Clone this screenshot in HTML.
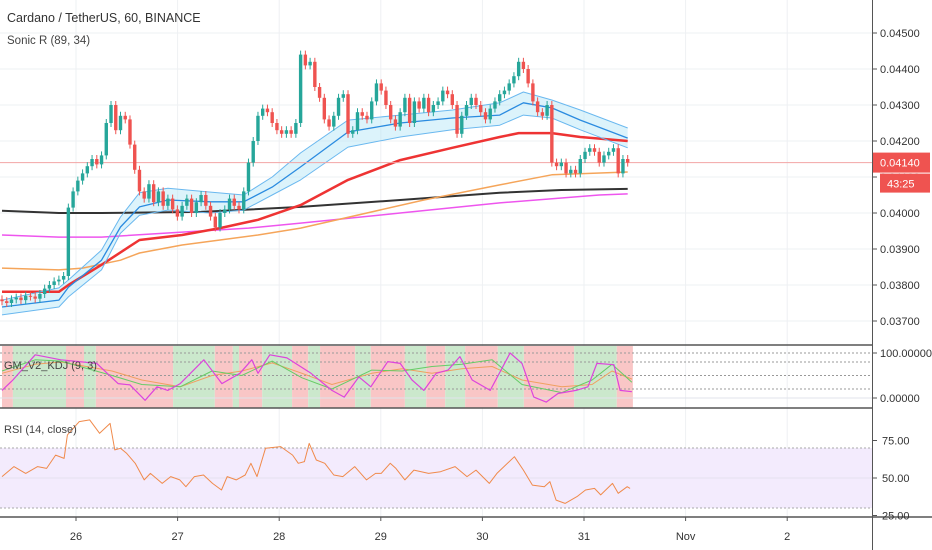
<!DOCTYPE html>
<html><head><meta charset="utf-8"><style>
html,body{margin:0;padding:0;background:#fff;}
svg{display:block;font-family:"Liberation Sans",sans-serif;}
</style></head><body>
<svg id="chart" width="932" height="550" viewBox="0 0 932 550">
<g id="grid"></g>
<g id="kdjBg"></g>
<g id="rsiBand"></g>
<g id="lines"></g>
<g id="candles"></g>
<g id="frame"></g>
<g id="labels"></g>
</svg>
<script>
// ---- data ----
const closes=[0.03755,0.03750,0.03760,0.03765,0.03758,0.03770,0.03768,0.03762,0.03775,0.03790,0.03800,0.03810,0.03815,0.03825,0.04015,0.04060,0.04090,0.04110,0.04130,0.04150,0.04135,0.04160,0.04250,0.04300,0.04230,0.04270,0.04260,0.04190,0.04120,0.04060,0.04040,0.04080,0.04030,0.04060,0.04020,0.04040,0.04010,0.03990,0.04020,0.04040,0.04000,0.04030,0.04050,0.04020,0.03990,0.03960,0.04000,0.04010,0.04040,0.04020,0.04010,0.04060,0.04140,0.04200,0.04270,0.04290,0.04280,0.04250,0.04230,0.04220,0.04230,0.04220,0.04250,0.04440,0.04410,0.04420,0.04350,0.04320,0.04260,0.04240,0.04270,0.04320,0.04330,0.04220,0.04230,0.04280,0.04270,0.04260,0.04310,0.04360,0.04340,0.04300,0.04260,0.04240,0.04280,0.04320,0.04250,0.04310,0.04290,0.04320,0.04280,0.04300,0.04310,0.04340,0.04330,0.04300,0.04220,0.04270,0.04300,0.04320,0.04300,0.04280,0.04260,0.04290,0.04310,0.04330,0.04340,0.04360,0.04380,0.04420,0.04400,0.04360,0.04310,0.04280,0.04270,0.04300,0.04140,0.04130,0.04140,0.04110,0.04120,0.04110,0.04150,0.04170,0.04180,0.04170,0.04140,0.04160,0.04170,0.04180,0.04110,0.04150,0.04140];
const firstOpen=0.03760;
const bandIdx=[0,12,14,21,25,29,35,44,51,57,63,73,84,95,105,110,116,122,132];
const emaMid=[0.03739,0.03758,0.03794,0.03869,0.03961,0.04017,0.04036,0.04031,0.04031,0.04072,0.04128,0.04225,0.04250,0.04264,0.04272,0.04306,0.04292,0.04258,0.04208];
const emaHigh=[0.03758,0.03792,0.03814,0.03897,0.03989,0.04056,0.04069,0.04058,0.04050,0.04100,0.04167,0.04258,0.04272,0.04286,0.04306,0.04336,0.04314,0.04286,0.04236];
const emaLow=[0.03717,0.03739,0.03767,0.03842,0.03944,0.03994,0.04008,0.04000,0.04008,0.04050,0.04092,0.04183,0.04211,0.04231,0.04244,0.04272,0.04264,0.04231,0.04181];
const redIdx=[0,12,14,21,29,38,46,54,63,73,84,95,105,109,116,122,132];
const redVals=[0.03781,0.03781,0.03800,0.03856,0.03925,0.03939,0.03958,0.03981,0.04022,0.04092,0.04147,0.04181,0.04211,0.04222,0.04222,0.04211,0.04200];
const orangeIdx=[0,12,17,25,29,38,46,54,63,89,105,116,132];
const orangeVals=[0.03847,0.03842,0.03847,0.03869,0.03889,0.03911,0.03925,0.03939,0.03958,0.04036,0.04078,0.04106,0.04114];
const blackIdx=[0,12,21,42,63,84,105,118,132];
const blackVals=[0.04006,0.04000,0.04000,0.04003,0.04017,0.04036,0.04056,0.04064,0.04067];
const magIdx=[0,12,21,38,52,63,84,105,126,132];
const magVals=[0.03939,0.03933,0.03933,0.03947,0.03958,0.03972,0.04000,0.04028,0.04050,0.04053];
const priceTicks=["0.04500","0.04400","0.04300","0.04200","0.04100","0.04000","0.03900","0.03800","0.03700"];
const lastPrice=0.04140;
const kdjBounds=[0,2.3,13.5,17.3,19.8,36.1,44.9,48.7,50,54.9,61.2,64.6,67.1,74.5,77.8,85,89.5,93.5,97.7,104.6,110.1,120.7,129.7,133.1];
const jIdx=[0,2.3,7,12.4,20,24.5,27,30.2,32.7,35,37.6,42.6,46.4,50.2,52.7,54,56.5,60.1,65.2,69.6,72.2,75.3,77.8,81.4,84,86.5,89,91.6,94.1,96.6,99.2,103,107.2,109.7,112.2,114.8,117.3,121.1,123.6,125.5,129.1,130.4,132.9];
const jVals=[17,40,96,85,77,32,29,-5,25,17,32,85,32,55,85,55,96,89,55,17,2,47,25,81,77,40,17,55,62,92,40,17,100,77,2,-9,10,17,25,77,74,17,14];
const kdIdx=[0,7,12.4,23.2,29.5,37.6,44.3,50.6,57,63.3,69.6,78,84.4,90.7,97,103.4,109.7,118.1,124.5,128.7,132.9];
const dVals=[55,75,80,60,40,25,50,60,78,55,30,55,65,55,65,70,40,25,30,60,42];
const kVals=[60,85,82,50,30,25,60,50,82,45,20,62,60,70,75,85,30,12,40,75,35];
const rsiIdx=[0,2.5,5,7.5,9.4,11.3,13.1,13.8,16.3,18.5,20.6,22.8,23.8,25,26.3,28.1,30,31.3,33.8,35.6,37.5,38.8,40.6,42.5,44.4,46.3,47.5,49.4,51.3,52.5,53.8,55.6,58.8,61.3,62.5,63.8,64.8,66.3,68.1,70,71.9,74.4,76.9,78.8,80,81.9,83.1,85,86.9,90,92.5,95.6,98.1,100,102.8,104.4,108.1,110,111.9,114.4,115.6,116.9,118.8,121.3,123.1,125,126.3,128.8,130,131.9,132.5];
const rsiVals=[50.9,57.6,53.1,57.6,56.4,65.3,63.1,78.7,87.6,88.7,79.8,86.4,68.7,69.8,66.4,59.8,48.7,53.1,46.4,50.9,48.7,44.2,50.9,52,46.4,42,50.9,48.7,52,59.8,50.9,69.8,70.9,65.3,59.8,60.9,73.1,62,59.8,52,50.9,57.6,48.7,53.1,53.1,59.8,56.4,48.7,55.3,53.1,54.2,57.6,50.9,55.3,46.4,53.1,64.2,55.3,45.3,44.2,47.6,35.3,33.1,37.6,42,43.1,38.7,46.4,39.8,44.2,43.1];
const dateLabels=["26","27","28","29","30","31","Nov","2"];
const dateDays=[0,1,2,3,4,5,6,7];

// ---- axes ----
const NS="http://www.w3.org/2000/svg";
const PW=872;
const xBar=i=>2+i*4.74;
const xDay=d=>76+d*101.6;
const yP=p=>33+(0.045-p)*36000;
const yK=v=>398-v*0.45;
const yR=v=>478-(v-50)*1.5;
function mk(parent,tag,attrs){const e=document.createElementNS(NS,tag);for(const k in attrs)e.setAttribute(k,attrs[k]);document.getElementById(parent).appendChild(e);return e;}
function pts(ix,vs,fx,fy){return ix.map((v,i)=>fx(v).toFixed(1)+","+fy(vs[i]).toFixed(1)).join(" ");}

// grid
dateDays.forEach(d=>{const l=mk('grid','line',{x1:xDay(d),x2:xDay(d),y1:0,y2:517,stroke:'#eef0f3','stroke-width':1});

});
priceTicks.forEach(t=>{const y=yP(parseFloat(t));const l=mk('grid','line',{x1:0,x2:PW,y1:y,y2:y,stroke:'#eef0f3','stroke-width':1});

});

// KDJ background bands
for(let i=0;i<kdjBounds.length-1;i++){const r=mk('kdjBg','rect',{x:xBar(kdjBounds[i]),y:346,width:xBar(kdjBounds[i+1])-xBar(kdjBounds[i]),height:62,fill:i%2===0?'#f9c6c6':'#cbe8cc'});

}
[100,80,50,20].forEach(v=>{const l=mk('kdjBg','line',{x1:0,x2:PW,y1:yK(v),y2:yK(v),stroke:'#999','stroke-dasharray':'2,2','stroke-width':1});

});
{const l=mk('kdjBg','line',{x1:0,x2:PW,y1:yK(0),y2:yK(0),stroke:'#e0e3eb','stroke-width':1});

}

// RSI band
{const r=mk('rsiBand','rect',{x:0,y:yR(70),width:PW,height:yR(30)-yR(70),fill:'#f3ebfd'});

}
[70,30].forEach(v=>{const l=mk('rsiBand','line',{x1:0,x2:PW,y1:yR(v),y2:yR(v),stroke:'#aaa','stroke-dasharray':'2,2','stroke-width':1});

});
{const l=mk('rsiBand','line',{x1:0,x2:PW,y1:yR(50),y2:yR(50),stroke:'#e6e0f0','stroke-width':1});

}

// Sonic R band fill
{const up=bandIdx.map((v,i)=>xBar(v)+","+yP(emaHigh[i]));const lo=bandIdx.map((v,i)=>xBar(v)+","+yP(emaLow[i])).reverse();
const p=mk('lines','polygon',{points:up.concat(lo).join(" "),fill:'rgba(178,229,247,0.45)'});

}
function line(ix,vs,fx,fy,col,w,name){const l=mk('lines','polyline',{points:pts(ix,vs,fx,fy),fill:'none',stroke:col,'stroke-width':w,'stroke-linejoin':'round'});

}
line(magIdx,magVals,xBar,yP,'#ee55ee',1.5,'ma-magenta');
line(blackIdx,blackVals,xBar,yP,'#333',2,'ma-black');
line(orangeIdx,orangeVals,xBar,yP,'#f5a55a',1.5,'ma-orange');
line(redIdx,redVals,xBar,yP,'#ee3333',2.5,'ema-89-red');
line(bandIdx,emaHigh,xBar,yP,'#6ab8ef',1,'ema-34-high');
line(bandIdx,emaLow,xBar,yP,'#6ab8ef',1,'ema-34-low');
line(bandIdx,emaMid,xBar,yP,'#2a8be0',1.3,'ema-34-close');
line(kdIdx,dVals,xBar,yK,'#f0a060',1,'kdj-d-line');
line(kdIdx,kVals,xBar,yK,'#66cc66',1,'kdj-k-line');
line(jIdx,jVals,xBar,yK,'#dd44dd',1.2,'kdj-j-line');
line(rsiIdx,rsiVals,xBar,yR,'#f08a4b',1,'rsi-line');

// last price line
{const y=yP(lastPrice);const l=mk('lines','line',{x1:0,x2:PW,y1:y,y2:y,stroke:'#f2a5a5','stroke-width':1});

}

// candles
closes.forEach((c,i)=>{const o=i===0?firstOpen:closes[i-1];const up=c>=o;const col=up?'#26a69a':'#ef5350';
const x=xBar(i);const top=yP(Math.max(o,c)),bot=yP(Math.min(o,c));
const w=mk('candles','line',{x1:x,x2:x,y1:top-4,y2:bot+4,stroke:col,'stroke-width':1});


const b=mk('candles','rect',{x:x-1.7,y:top,width:3.4,height:Math.max(1,bot-top),fill:col});

});

// frame
[[0,345,PW,345],[0,408,PW,408],[0,517,932,517]].forEach(s=>{const l=mk('frame','line',{x1:s[0],y1:s[1],x2:s[2],y2:s[3],stroke:'#555','stroke-width':1.5});

});
{const l=mk('frame','line',{x1:872.5,y1:0,x2:872.5,y2:550,stroke:'#555','stroke-width':1});

}

// labels
function txt(x,y,s,size,col,anchor,name,weight){const t=mk('labels','text',{x:x,y:y,'font-size':size,fill:col,'text-anchor':anchor||'start','font-weight':weight||'normal'});t.textContent=s;

return t;}
priceTicks.forEach(t=>{const y=yP(parseFloat(t));
const k=mk('labels','line',{x1:873,x2:877,y1:y,y2:y,stroke:'#555'});


txt(880,y+4,t,11,'#333','start','price-tick-label');});
[["100.00000",100],["0.00000",0]].forEach(a=>{const y=yK(a[1]);
const k=mk('labels','line',{x1:873,x2:877,y1:y,y2:y,stroke:'#555'});


txt(880,y+4,a[0],11,'#333','start','kdj-tick-label');});
[["75.00",75],["50.00",50],["25.00",25]].forEach(a=>{const y=yR(a[1]);
const k=mk('labels','line',{x1:873,x2:877,y1:y,y2:y,stroke:'#555'});


txt(882,y+4,a[0],11,'#333','start','rsi-tick-label');});
{const y=yP(lastPrice);const r=mk('labels','rect',{x:873,y:y-10,width:57,height:20,fill:'#ef5350'});


txt(880,y+4,"0.04140",11,'#fff','start','last-price-label');
const r2=mk('labels','rect',{x:880,y:y+11,width:50,height:19,fill:'#ef5350'});


txt(887,y+25,"43:25",11,'#fff','start','countdown-label');}
dateLabels.forEach((s,i)=>{const x=xDay(dateDays[i]);
const k=mk('labels','line',{x1:x,x2:x,y1:517,y2:521,stroke:'#555'});


txt(x,540,s,11,'#333','middle','time-tick-label');});
txt(7,22,"Cardano / TetherUS, 60, BINANCE",12.5,'#333','start','chart-title');
txt(7,44,"Sonic R (89, 34)",11.5,'#444','start','sonic-r-legend');
txt(4,369,"GM_V2_KDJ (9, 3)",11,'#444','start','kdj-legend');
txt(4,433,"RSI (14, close)",11,'#444','start','rsi-legend');
</script>
</body></html>
